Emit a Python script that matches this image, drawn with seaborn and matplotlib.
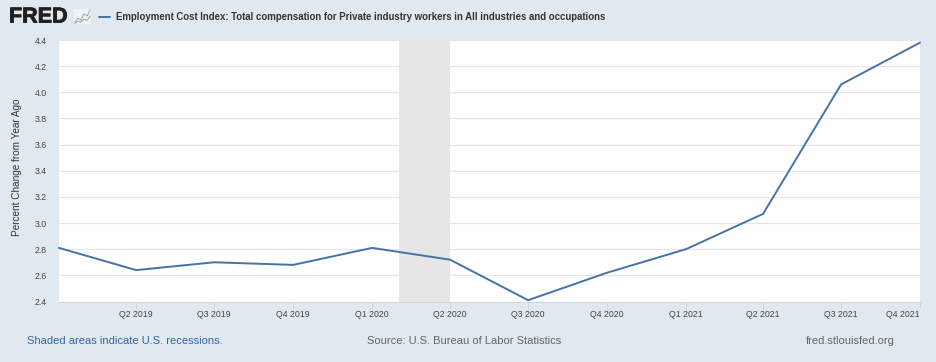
#!/usr/bin/env python3
"""FRED chart: Employment Cost Index, percent change from year ago"""

import pandas as pd
import matplotlib.pyplot as plt
import matplotlib.dates as mdates
import matplotlib.patheffects as pe
from matplotlib.lines import Line2D
import seaborn as sns

W, H = 936, 362
BG = '#e1e9f0'
LINE = '#4572a7'

quarters = ['2019-01-01', '2019-04-01', '2019-07-01', '2019-10-01',
            '2020-01-01', '2020-04-01', '2020-07-01', '2020-10-01',
            '2021-01-01', '2021-04-01', '2021-07-01', '2021-10-01']
pct_change = [2.81, 2.64, 2.70, 2.68, 2.81, 2.72, 2.41, 2.62, 2.80, 3.07, 4.06, 4.38]
tick_labels = ['Q2 2019', 'Q3 2019', 'Q4 2019', 'Q1 2020', 'Q2 2020', 'Q3 2020',
               'Q4 2020', 'Q1 2021', 'Q2 2021', 'Q3 2021', 'Q4 2021']
y_ticks = [2.4, 2.6, 2.8, 3.0, 3.2, 3.4, 3.6, 3.8, 4.0, 4.2, 4.4]
recession = ['2020-02-01', '2020-04-01']

TITLE = 'Employment Cost Index: Total compensation for Private industry workers in All industries and occupations'

sns.set_theme(style='white')
plt.rcParams['font.family'] = ['Liberation Sans', 'DejaVu Sans']


def px(x, y):
    """Pixel position (from top left) to figure fraction"""
    return x / W, 1 - y / H


df = pd.DataFrame({'date': pd.to_datetime(quarters), 'value': pct_change})

fig = plt.figure(figsize=(W / 100, H / 100), dpi=100, facecolor=BG)
ax = fig.add_axes([59 / W, (H - 301.5) / H, 861 / W, 261.5 / H])
ax.set_facecolor('white')

ax.axvspan(pd.Timestamp(recession[0]), pd.Timestamp(recession[1]), color='#e6e6e6', lw=0, zorder=1)
sns.lineplot(data=df, x='date', y='value', ax=ax, color=LINE, linewidth=1.4, zorder=3, clip_on=False)

ax.set_xlim(df['date'].iloc[0], df['date'].iloc[-1])
ax.set_ylim(y_ticks[0], y_ticks[-1])
ax.set_xlabel('')
ax.set_ylabel('')

ax.set_yticks(y_ticks)
ax.set_yticklabels([f'{v:.1f}' for v in y_ticks], fontsize=6.3, color='#444444')
ax.tick_params(axis='y', length=0, pad=8.5)
ax.grid(axis='y', color='#e6e6e6', linewidth=0.8, zorder=0)
ax.set_axisbelow(True)

ax.set_xticks(mdates.date2num(df['date'].iloc[1:]))
ax.set_xticklabels(tick_labels, fontsize=6.3, color='#444444')
ax.tick_params(axis='x', length=5, width=0.7, color='#ccd6eb', pad=1.2, bottom=True)
ax.get_xticklabels()[-1].set_ha('right')

for side in ['top', 'right', 'left']:
    ax.spines[side].set_visible(False)
ax.spines['bottom'].set_color('#ccd6eb')
ax.spines['bottom'].set_linewidth(0.7)

# header
x, y = px(9, 17)
fig.text(x, y, 'FRED', fontsize=15.5, fontweight='bold', color='#231f20', ha='left', va='center',
         path_effects=[pe.withStroke(linewidth=0.6, foreground='#231f20')])
icon = fig.add_axes([74 / W, 1 - 24 / H, 17 / W, 15 / H], facecolor='#eef2f5')
icon.plot([0, 1, 2, 3, 4, 5], [1, 3, 2, 5, 4, 7], color='#8fa9c4', lw=0.7)
icon.plot([0, 1, 2, 3, 4, 5], [0.5, 1.5, 1, 2.5, 2, 4], color='#8fae6b', lw=0.7)
icon.set_xticks([])
icon.set_yticks([])
for s in icon.spines.values():
    s.set_visible(False)

x0, y0 = px(99, 16.5)
x1, _ = px(110, 16.5)
fig.add_artist(Line2D([x0, x1], [y0, y0], color=LINE, lw=1.4))
x, y = px(115.5, 16.5)
fig.text(x, y, TITLE, fontsize=6.9, fontweight='bold', color='#333333', ha='left', va='center')

# y axis title
x, y = px(17.5, 167)
fig.text(x, y, 'Percent Change from Year Ago', fontsize=7.2, color='#333333',
         rotation=90, ha='center', va='center')

# footer
x, y = px(27, 341)
fig.text(x, y, 'Shaded areas indicate U.S. recessions.', fontsize=8, color='#3a64a0', ha='left', va='center')
x, y = px(367, 341)
fig.text(x, y, 'Source: U.S. Bureau of Labor Statistics', fontsize=8, color='#666666', ha='left', va='center')
x, y = px(806, 341)
fig.text(x, y, 'fred.stlouisfed.org', fontsize=8, color='#666666', ha='left', va='center')

fig.savefig('out.png', dpi=100, facecolor=BG)
plt.close()
